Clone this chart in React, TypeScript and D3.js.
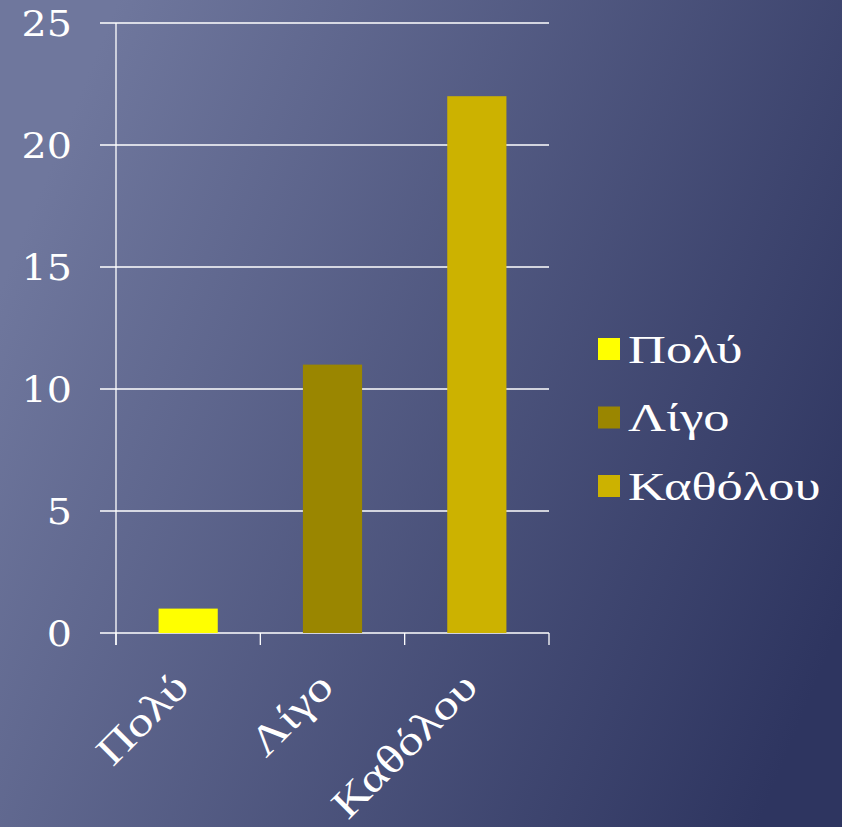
import React from "react";
import * as d3 from "d3";

const categories = ["Πολύ", "Λίγο", "Καθόλου"];
const values = [1, 11, 22];
const colors = ["#ffff00", "#9a8600", "#ccb200"];
const yTicks = [0, 5, 10, 15, 20, 25];

const W = 842;
const H = 827;
const left = 116;
const right = 549;
const top = 23;
const bottom = 633;

export default function App() {
  const x = d3.scaleBand<string>().domain(categories).range([left, right]).paddingInner(0).paddingOuter(0);
  const y = d3.scaleLinear().domain([0, 25]).range([bottom, top]);
  const bw = x.bandwidth() * 0.41;
  const boundaries = [...categories.map((c) => x(c) as number), right];
  const numFont = "'DejaVu Serif', serif";
  const txtFont = "'Liberation Serif', serif";
  return (
    <svg width={W} height={H} style={{ position: "absolute", left: 0, top: 0 }}>
      <defs>
        <linearGradient id="bg" x1="0%" y1="35%" x2="100%" y2="75%">
          <stop offset="0%" stopColor="#6f779d" />
          <stop offset="100%" stopColor="#2e3560" />
        </linearGradient>
      </defs>
      <rect x={0} y={0} width={W} height={H} fill="url(#bg)" />
      {yTicks.map((t) => (
        <g key={t}>
          <line x1={100} x2={right} y1={y(t)} y2={y(t)} stroke="#ffffff" strokeWidth={1.3} />
          <text
            x={0}
            y={0}
            dy="0.35em"
            textAnchor="end"
            fill="#ffffff"
            fontFamily={numFont}
            fontSize={36}
            transform={`translate(72 ${y(t)}) scale(1.1 1)`}
          >
            {t}
          </text>
        </g>
      ))}
      <line x1={left} x2={left} y1={top} y2={645} stroke="#ffffff" strokeWidth={1.3} />
      {boundaries.map((b, i) => (
        <line key={i} x1={b} x2={b} y1={bottom} y2={645} stroke="#ffffff" strokeWidth={1.3} />
      ))}
      {categories.map((c, i) => {
        const cx = (x(c) as number) + x.bandwidth() / 2;
        return (
          <rect key={c} x={cx - bw / 2} y={y(values[i])} width={bw} height={bottom - y(values[i])} fill={colors[i]} />
        );
      })}
      {categories.map((c) => {
        const cx = (x(c) as number) + x.bandwidth() / 2 + 3;
        const cy = 689;
        return (
          <text
            key={c}
            x={0}
            y={0}
            textAnchor="end"
            fill="#ffffff"
            fontFamily={txtFont}
            fontSize={41}
            transform={`translate(${cx} ${cy}) rotate(-45) scale(1.24 1)`}
          >
            {c}
          </text>
        );
      })}
      {categories.map((c, i) => {
        const ly = 349 + i * 68.5;
        return (
          <g key={c}>
            <rect x={598} y={ly - 11} width={22} height={22} fill={colors[i]} />
            <text
              x={0}
              y={0}
              dy="0.33em"
              fill="#ffffff"
              fontFamily={txtFont}
              fontSize={41}
              transform={`translate(628 ${ly}) scale(1.28 1)`}
            >
              {c}
            </text>
          </g>
        );
      })}
    </svg>
  );
}
